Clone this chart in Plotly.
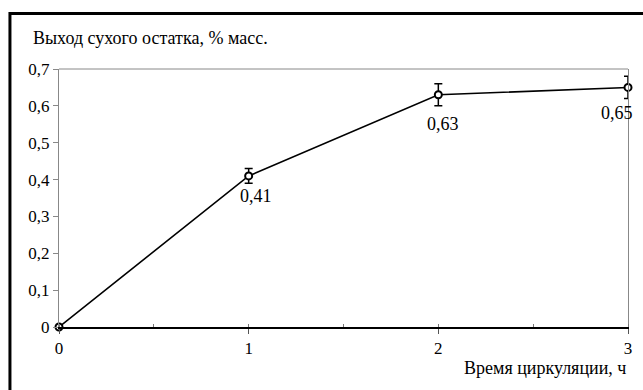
import plotly.graph_objects as go

# Circulation time (h) and dry residue yield (% mass)
hours = [0, 1, 2, 3]
yield_pct = [0.0, 0.41, 0.63, 0.65]
yield_err = [0.0, 0.02, 0.03, 0.03]
point_labels = ["", "0,41", "0,63", "0,65"]

y_ticks = [0, 0.1, 0.2, 0.3, 0.4, 0.5, 0.6, 0.7]
y_tick_text = ["0", "0,1", "0,2", "0,3", "0,4", "0,5", "0,6", "0,7"]
x_ticks = [0, 1, 2, 3]
x_tick_text = ["0", "1", "2", "3"]

FONT = "Liberation Serif, serif"

fig = go.Figure()
fig.add_trace(go.Scatter(
    x=hours, y=yield_pct,
    mode="lines+markers",
    line=dict(color="black", width=1.6),
    marker=dict(symbol="circle", size=7, color="white",
                line=dict(color="black", width=2)),
    error_y=dict(type="data", array=yield_err, visible=True,
                 color="black", thickness=1.5, width=4),
    cliponaxis=False,
    showlegend=False,
))

# value labels below each point
offsets = {1: (7, 20), 2: (5, 29), 3: (-11, 26)}
for i, (xv, yv, txt) in enumerate(zip(hours, yield_pct, point_labels)):
    if not txt:
        continue
    dx, dy = offsets[i]
    fig.add_annotation(x=xv, y=yv, text=txt, showarrow=False,
                       xshift=dx, yshift=-dy,
                       font=dict(family=FONT, size=18))

fig.update_layout(
    template="none",
    width=643, height=390,
    margin=dict(l=59, r=15, t=69, b=63),
    paper_bgcolor="white", plot_bgcolor="white",
    font=dict(family=FONT, size=17, color="black"),
    xaxis=dict(
        range=[0, 3], tickvals=x_ticks, ticktext=x_tick_text,
        showgrid=False, zeroline=False,
        showline=True, linecolor="black", linewidth=1.5,
        ticks="outside", ticklen=5, tickcolor="#555", tickwidth=1,
        minor=dict(dtick=0.5, ticks="inside", ticklen=3,
                   tickcolor="#777", tickwidth=1, showgrid=False),
        tickfont=dict(family=FONT, size=17),
    ),
    yaxis=dict(
        range=[0, 0.7], tickvals=y_ticks, ticktext=y_tick_text,
        showgrid=False, zeroline=False,
        showline=True, linecolor="#888", linewidth=1, mirror=True,
        ticks="outside", ticklen=5, tickcolor="#888", tickwidth=1,
        tickfont=dict(family=FONT, size=17),
    ),
    shapes=[
        # top edge of the plot area
        dict(type="line", xref="paper", yref="paper",
             x0=0, x1=1, y0=1, y1=1, line=dict(color="#888", width=1)),
        # outer frame
        dict(type="rect", xref="paper", yref="paper",
             x0=-0.0862, x1=1.05, y0=-0.3, y1=1.215,
             line=dict(color="black", width=3), layer="above"),
    ],
)

fig.add_annotation(xref="paper", yref="paper", x=-0.05, y=1.12,
                   xanchor="left", yanchor="middle", showarrow=False,
                   text="Выход сухого остатка, % масс.",
                   font=dict(family=FONT, size=18))
fig.add_annotation(xref="paper", yref="paper", x=1.0, y=-0.16,
                   xanchor="right", yanchor="middle", showarrow=False,
                   text="Время циркуляции, ч",
                   font=dict(family=FONT, size=18))

fig.write_html("out.html")
